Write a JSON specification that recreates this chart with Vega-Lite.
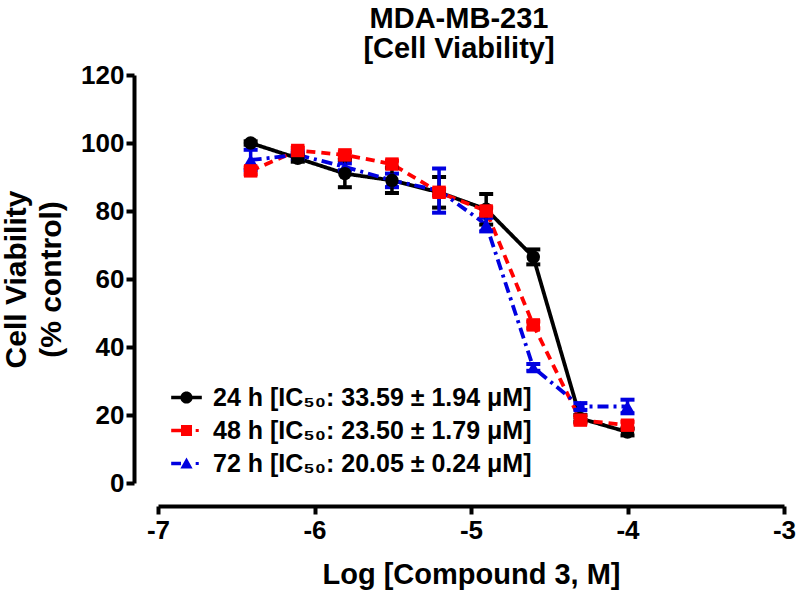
{
  "$schema": "https://vega.github.io/schema/vega-lite/v6.json",
  "width": 626,
  "height": 408,
  "autosize": "none",
  "padding": {"left": 158, "top": 75, "right": 16, "bottom": 115},
  "background": "white",
  "config": {
    "view": {"stroke": null},
    "font": "Liberation Sans",
    "axis": {"grid": false, "labelFlush": false, "domainColor": "black", "domainWidth": 4, "tickColor": "black", "tickWidth": 4, "tickSize": 8, "labelFont": "Liberation Sans", "labelFontWeight": "bold", "labelFontSize": 26, "labelColor": "black", "titleFont": "Liberation Sans", "titleFontWeight": "bold", "titleFontSize": 28, "titleColor": "black"},
    "legend": {"padding": 0, "symbolOpacity": 1}
  },
  "title": {"text": ["MDA-MB-231", "[Cell Viability]"], "fontSize": 29, "fontWeight": "bold", "font": "Liberation Sans", "color": "black", "anchor": "middle", "offset": -2, "lineHeight": 30, "dx": -12},
  "data": {"values": [
    {"x": -6.408, "s": "24 h [IC₅₀: 33.59 ± 1.94 μM]", "v": 100, "e": 0.5},
    {"x": -6.107, "s": "24 h [IC₅₀: 33.59 ± 1.94 μM]", "v": 95.5, "e": 1},
    {"x": -5.806, "s": "24 h [IC₅₀: 33.59 ± 1.94 μM]", "v": 91, "e": 4},
    {"x": -5.505, "s": "24 h [IC₅₀: 33.59 ± 1.94 μM]", "v": 89, "e": 3.7},
    {"x": -5.204, "s": "24 h [IC₅₀: 33.59 ± 1.94 μM]", "v": 85.5, "e": 4.5},
    {"x": -4.903, "s": "24 h [IC₅₀: 33.59 ± 1.94 μM]", "v": 80.5, "e": 4.5},
    {"x": -4.602, "s": "24 h [IC₅₀: 33.59 ± 1.94 μM]", "v": 66.5, "e": 2.2},
    {"x": -4.301, "s": "24 h [IC₅₀: 33.59 ± 1.94 μM]", "v": 19, "e": 1},
    {"x": -4.0, "s": "24 h [IC₅₀: 33.59 ± 1.94 μM]", "v": 15, "e": 1},
    {"x": -6.408, "s": "48 h [IC₅₀: 23.50 ± 1.79 μM]", "v": 91.8, "e": 1},
    {"x": -6.107, "s": "48 h [IC₅₀: 23.50 ± 1.79 μM]", "v": 97.8, "e": 0.8},
    {"x": -5.806, "s": "48 h [IC₅₀: 23.50 ± 1.79 μM]", "v": 96.5, "e": 0.8},
    {"x": -5.505, "s": "48 h [IC₅₀: 23.50 ± 1.79 μM]", "v": 93.8, "e": 1},
    {"x": -5.204, "s": "48 h [IC₅₀: 23.50 ± 1.79 μM]", "v": 85.5, "e": 1},
    {"x": -4.903, "s": "48 h [IC₅₀: 23.50 ± 1.79 μM]", "v": 80, "e": 1},
    {"x": -4.602, "s": "48 h [IC₅₀: 23.50 ± 1.79 μM]", "v": 46.5, "e": 1},
    {"x": -4.301, "s": "48 h [IC₅₀: 23.50 ± 1.79 μM]", "v": 18.5, "e": 1},
    {"x": -4.0, "s": "48 h [IC₅₀: 23.50 ± 1.79 μM]", "v": 17, "e": 1},
    {"x": -6.408, "s": "72 h [IC₅₀: 20.05 ± 0.24 μM]", "v": 95, "e": 3},
    {"x": -6.107, "s": "72 h [IC₅₀: 20.05 ± 0.24 μM]", "v": 96.5, "e": 1},
    {"x": -5.806, "s": "72 h [IC₅₀: 20.05 ± 0.24 μM]", "v": 93, "e": 1},
    {"x": -5.505, "s": "72 h [IC₅₀: 20.05 ± 0.24 μM]", "v": 89, "e": 2},
    {"x": -5.204, "s": "72 h [IC₅₀: 20.05 ± 0.24 μM]", "v": 86, "e": 6.5},
    {"x": -4.903, "s": "72 h [IC₅₀: 20.05 ± 0.24 μM]", "v": 76, "e": 2},
    {"x": -4.602, "s": "72 h [IC₅₀: 20.05 ± 0.24 μM]", "v": 34, "e": 1},
    {"x": -4.301, "s": "72 h [IC₅₀: 20.05 ± 0.24 μM]", "v": 22.5, "e": 1},
    {"x": -4.0, "s": "72 h [IC₅₀: 20.05 ± 0.24 μM]", "v": 22.5, "e": 2}
  ]},
  "encoding": {
    "x": {"field": "x", "type": "quantitative", "scale": {"domain": [-7, -3], "nice": false}, "axis": {"values": [-7, -6, -5, -4, -3], "offset": 23, "title": "Log [Compound 3, M]", "titleFontSize": 29, "labelPadding": 3, "titlePadding": 17, "labelExpr": "'-' + abs(datum.value)"}},
    "y": {"field": "v", "type": "quantitative", "scale": {"domain": [0, 120], "nice": false}, "axis": {"values": [0, 20, 40, 60, 80, 100, 120], "offset": 24, "title": ["Cell Viability", "(% control)"], "titleFontSize": 30, "labelPadding": 2, "titlePadding": 14, "titleLineHeight": 35}},
    "color": {"field": "s", "type": "nominal", "title": null,
      "scale": {"domain": ["24 h [IC₅₀: 33.59 ± 1.94 μM]", "48 h [IC₅₀: 23.50 ± 1.79 μM]", "72 h [IC₅₀: 20.05 ± 0.24 μM]"], "range": ["#000000", "#ff0000", "#0000e0"]},
      "legend": {"orient": "none", "legendX": 16, "legendY": 310, "labelFontSize": 25, "labelFontWeight": "bold", "labelFont": "Liberation Sans", "labelColor": "black", "symbolSize": 150, "symbolOpacity": 1, "rowPadding": 7, "labelLimit": 600, "labelOffset": 14, "symbolStrokeWidth": 0}}
  },
  "layer": [
    {
      "mark": {"type": "line", "strokeWidth": 3.8},
      "encoding": {
        "strokeDash": {"field": "s", "type": "nominal", "scale": {"range": [[1, 0], [9, 6], [11, 5, 3, 5]]}, "legend": null},
        "order": {"field": "x", "type": "quantitative"}
      }
    },
    {
      "mark": {"type": "errorbar", "ticks": {"size": 14, "thickness": 4, "opacity": 1}, "thickness": 3.5, "opacity": 1},
      "encoding": {"yError": {"field": "e"}}
    },
    {
      "transform": [{"filter": "indexof(datum.s, '72') === 0"}],
      "mark": {"type": "point", "shape": "triangle-up", "filled": true, "opacity": 1, "size": 180}
    },
    {
      "transform": [{"filter": "indexof(datum.s, '24') === 0"}],
      "mark": {"type": "point", "shape": "circle", "filled": true, "opacity": 1, "size": 180}
    },
    {
      "transform": [{"filter": "indexof(datum.s, '48') === 0"}],
      "mark": {"type": "point", "shape": "square", "filled": true, "opacity": 1, "size": 180}
    },
    {
      "transform": [{"filter": "datum.v > 1000"}],
      "mark": {"type": "point", "filled": true, "opacity": 1},
      "encoding": {
        "shape": {"field": "s", "type": "nominal", "title": null,
          "scale": {"domain": ["24 h [IC₅₀: 33.59 ± 1.94 μM]", "48 h [IC₅₀: 23.50 ± 1.79 μM]", "72 h [IC₅₀: 20.05 ± 0.24 μM]"], "range": ["M-2.5,-0.3H2.5V0.3H-2.5Z M1,0 A1,1 0 1,1 -1,0 A1,1 0 1,1 1,0 Z", "M-2.5,-0.3H-0.9V0.3H-2.5Z M-0.9,-0.9H0.9V0.9H-0.9Z M1.5,-0.25H2V0.25H1.5Z", "M-2.5,-0.3H-0.9V0.3H-2.5Z M0,-1L1,0.8H-1Z M1.5,-0.25H2V0.25H1.5Z"]},
          "legend": {"orient": "none", "legendX": 16, "legendY": 310, "labelFontSize": 25, "labelFontWeight": "bold", "labelFont": "Liberation Sans", "labelColor": "black", "symbolSize": 150, "symbolOpacity": 1, "rowPadding": 7, "labelLimit": 600, "labelOffset": 14, "symbolStrokeWidth": 0}}
      }
    }
  ]
}
